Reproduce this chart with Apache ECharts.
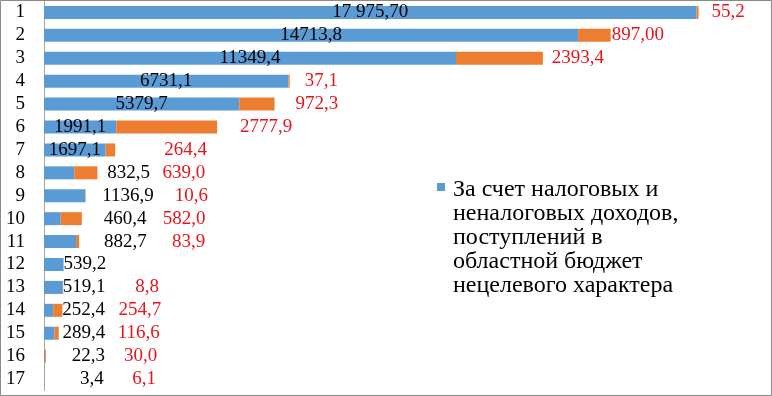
<!DOCTYPE html>
<html><head><meta charset="utf-8">
<script src="https://cdn.jsdelivr.net/npm/echarts@6/dist/echarts.min.js"></script>
<style>html,body{margin:0;padding:0;background:#fff}#c{width:772px;height:396px}</style>
</head><body><div id="c"></div>
<script>
// ---- data ----
const categories = ['1','2','3','4','5','6','7','8','9','10','11','12','13','14','15','16','17'];
const ownRevenue = [17975.7,14713.8,11349.4,6731.1,5379.7,1991.1,1697.1,832.5,1136.9,460.4,882.7,539.2,519.1,252.4,289.4,22.3,3.4];
const ownLabels = ['17 975,70','14713,8','11349,4','6731,1','5379,7','1991,1','1697,1','832,5','1136,9','460,4','882,7','539,2','519,1','252,4','289,4','22,3','3,4'];
const transfers = [55.2,897.0,2393.4,37.1,972.3,2777.9,264.4,639.0,10.6,582.0,83.9,null,8.8,254.7,116.6,30.0,6.1];
const transferLabels = ['55,2','897,00','2393,4','37,1','972,3','2777,9','264,4','639,0','10,6','582,0','83,9','','8,8','254,7','116,6','30,0','6,1'];
const ownNameLines = ['За счет налоговых и','неналоговых доходов,','поступлений в','областной бюджет','нецелевого характера'];
const ownName = ownNameLines.join(' ');
const transferName = 'Безвозмездные поступления';

// ---- layout (label shifts in px from segment end; null = centred inside) ----
const ownLabelShift = [null,null,null,null,null,null,null,33,17,43,28,0,0,9,8,27,36];
const transferLabelShift = [13,1,9,15,21,23,49,65,89,81,93,0,72,56,59,78,88];

const FONT = '"Liberation Serif", "Times New Roman", serif';
const FS = 19;

const chart = echarts.init(document.getElementById('c'), null, {renderer: 'canvas'});
chart.setOption({
  animation: false,
  backgroundColor: '#fff',
  grid: {left: 44, top: 1, width: 726, bottom: 5.5, containLabel: false},
  xAxis: {type: 'value', min: 0, max: 20000, show: false},
  yAxis: {
    type: 'category', inverse: true, data: categories,
    axisLine: {show: true, lineStyle: {color: '#a6a6a6', width: 1}},
    axisTick: {show: false},
    splitLine: {show: false},
    axisLabel: {interval: 0, color: '#000', fontSize: FS, fontFamily: FONT, margin: 19}
  },
  legend: {
    data: [ownName], left: 437, top: 125, padding: 0,
    orient: 'vertical', icon: 'rect', itemWidth: 8, itemHeight: 8,
    selectedMode: false,
    formatter: () => '{s| }\n' + ownNameLines.map(l => '{t|' + l + '}').join('\n'),
    textStyle: {
      color: '#000', fontSize: 24, fontFamily: FONT,
      rich: {
        s: {fontSize: 4, lineHeight: 101},
        t: {color: '#000', fontSize: 24, fontFamily: FONT, lineHeight: 24, padding: [0, 0, 0, 3]}
      }
    }
  },
  series: [
    {
      name: ownName, type: 'bar', stack: 'total', barWidth: 13,
      itemStyle: {color: '#5b9bd5'},
      label: {show: true, color: '#000', fontSize: FS, fontFamily: FONT,
        formatter: p => ownLabels[p.dataIndex]},
      data: ownRevenue.map((v, i) => ({
        value: v,
        label: ownLabelShift[i] === null ? {position: 'inside'} :
          {position: 'right', distance: 0, offset: [ownLabelShift[i], 0]}
      }))
    },
    {
      name: transferName, type: 'bar', stack: 'total', barWidth: 13,
      itemStyle: {color: '#ed7d31'},
      label: {show: true, color: '#e8141c', fontSize: FS, fontFamily: FONT,
        formatter: p => transferLabels[p.dataIndex]},
      data: transfers.map((v, i) => ({
        value: v,
        label: {position: 'right', distance: 0, offset: [transferLabelShift[i], 0], show: v !== null}
      }))
    }
  ],
  graphic: [{
    type: 'rect', silent: true, z: 100,
    shape: {x: 0.5, y: 0.5, width: 771, height: 395},
    style: {fill: null, stroke: '#8a8a8a', lineWidth: 1}
  }]
});
</script></body></html>
